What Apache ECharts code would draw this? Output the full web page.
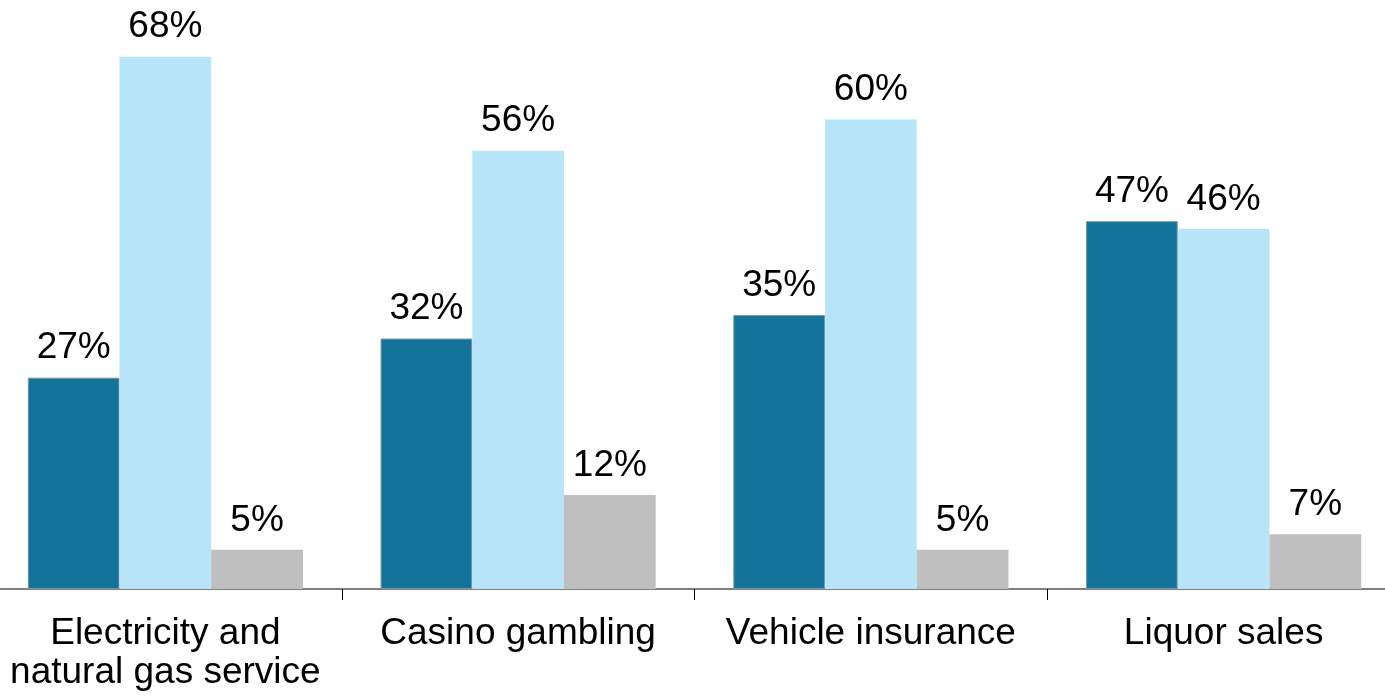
<!DOCTYPE html>
<html>
<head>
<meta charset="utf-8">
<script src="https://cdn.jsdelivr.net/npm/echarts@6/dist/echarts.min.js"></script>
<style>
html, body { margin: 0; padding: 0; background: #fff; }
#main { width: 1385px; height: 700px; }
</style>
</head>
<body>
<div id="main"></div>
<script>
var categories = ['Electricity and\nnatural gas service', 'Casino gambling', 'Vehicle insurance', 'Liquor sales'];
var seriesA = [27, 32, 35, 47];
var seriesB = [68, 56, 60, 46];
var seriesC = [5, 12, 5, 7];

var chart = echarts.init(document.getElementById('main'));

var labelStyle = {
    show: true,
    position: 'top',
    distance: 11,
    color: '#000',
    fontSize: 37,
    fontFamily: 'Liberation Sans, Arial, sans-serif',
    formatter: '{c}%'
};

var option = {
    animation: false,
    grid: { left: -11, width: 1411, top: 2, bottom: 111, outerBoundsMode: 'none', containLabel: false },
    xAxis: {
        type: 'category',
        data: categories,
        axisLine: { lineStyle: { color: '#7f7f7f', width: 2 } },
        axisTick: { show: true, length: 11, lineStyle: { color: '#000', width: 1 } },
        axisLabel: {
            color: '#000',
            fontSize: 37,
            lineHeight: 39,
            margin: 25,
            fontFamily: 'Liberation Sans, Arial, sans-serif',
            interval: 0
        }
    },
    yAxis: {
        type: 'value',
        min: 0,
        max: 75,
        show: false,
        splitLine: { show: false }
    },
    series: [{
        type: 'bar',
        data: seriesA,
        barGap: '0%',
        barCategoryGap: '22%',
        itemStyle: { color: '#13739a', borderColor: '#7d97a5', borderWidth: 1 },
        label: labelStyle
    }, {
        type: 'bar',
        data: seriesB,
        itemStyle: { color: '#b7e5f7' },
        label: labelStyle
    }, {
        type: 'bar',
        data: seriesC,
        itemStyle: { color: '#bfbfbf' },
        label: labelStyle
    }]
};

chart.setOption(option);
</script>
</body>
</html>
